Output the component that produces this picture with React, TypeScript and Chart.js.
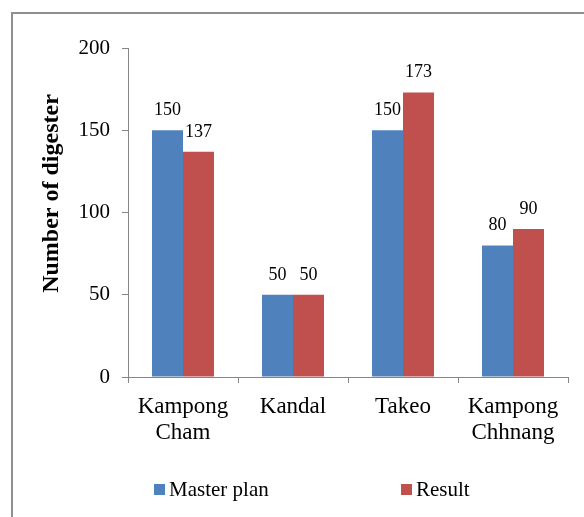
import React, { useEffect, useRef } from "react";
import { Chart, registerables } from "chart.js";

Chart.register(...registerables);

// Provinces (multi-line category labels)
const categories: string[][] = [["Kampong", "Cham"], ["Kandal"], ["Takeo"], ["Kampong", "Chhnang"]];
const seriesNames: string[] = ["Master plan", "Result"];
const masterPlan: number[] = [150, 50, 150, 80];
const result: number[] = [137, 50, 173, 90];
const seriesColors: string[] = ["#4F81BD", "#C0504D"];
const yTicks: number[] = [0, 50, 100, 150, 200];
const yTitle = "Number of digester";

const FONT = "'Liberation Serif', 'Times New Roman', Times, serif";
const AXIS_COLOR = "#868686";

// Value printed above every bar
const valueLabels = {
  id: "valueLabels",
  afterDatasetsDraw(chart: any) {
    const ctx = chart.ctx as CanvasRenderingContext2D;
    ctx.save();
    ctx.font = `18px ${FONT}`;
    ctx.fillStyle = "#000";
    ctx.textAlign = "center";
    ctx.textBaseline = "alphabetic";
    chart.data.datasets.forEach((ds: any, i: number) => {
      const meta = chart.getDatasetMeta(i);
      meta.data.forEach((bar: any, j: number) => {
        ctx.fillText(String(ds.data[j]), bar.x, bar.y - 15);
      });
    });
    ctx.restore();
  },
};

// Rotated bold y-axis title, placed a little above the middle of the plot
const axisTitle = {
  id: "axisTitle",
  afterDraw(chart: any) {
    const { ctx, chartArea } = chart;
    ctx.save();
    ctx.translate(chartArea.left - 70, (chartArea.top + chartArea.bottom) / 2 - 19);
    ctx.rotate(-Math.PI / 2);
    ctx.font = `bold 24px ${FONT}`;
    ctx.fillStyle = "#000";
    ctx.textAlign = "center";
    ctx.textBaseline = "alphabetic";
    ctx.fillText(yTitle, 0, 0);
    ctx.restore();
  },
};

export default function App() {
  const canvasRef = useRef<HTMLCanvasElement | null>(null);

  useEffect(() => {
    if (!canvasRef.current) return;
    const chart = new Chart(canvasRef.current, {
      type: "bar",
      data: {
        labels: categories,
        datasets: [
          {
            label: seriesNames[0],
            data: masterPlan,
            backgroundColor: seriesColors[0],
            borderWidth: 0,
            barPercentage: 1,
            categoryPercentage: 62 / 110,
          },
          {
            label: seriesNames[1],
            data: result,
            backgroundColor: seriesColors[1],
            borderWidth: 0,
            barPercentage: 1,
            categoryPercentage: 62 / 110,
          },
        ],
      },
      options: {
        animation: false,
        responsive: false,
        layout: { padding: { left: 0, top: 48, right: 16, bottom: 60 } },
        plugins: {
          legend: { display: false },
          tooltip: { enabled: false },
        },
        scales: {
          x: {
            grid: {
              drawOnChartArea: false,
              drawTicks: true,
              tickLength: 6,
              color: AXIS_COLOR,
              offset: true,
            },
            border: { color: AXIS_COLOR, width: 1 },
            ticks: {
              font: { family: FONT, size: 23, lineHeight: 1.17 },
              color: "#000",
              padding: 10,
              maxRotation: 0,
              autoSkip: false,
            },
            afterFit(scale: any) {
              scale.height = 80;
            },
          },
          y: {
            min: 0,
            max: 200,
            afterBuildTicks(scale: any) {
              scale.ticks = yTicks.map((v) => ({ value: v }));
            },
            ticks: {
              font: { family: FONT, size: 21 },
              color: "#000",
              padding: 12,
            },
            grid: {
              drawOnChartArea: false,
              drawTicks: true,
              tickLength: 6,
              color: AXIS_COLOR,
            },
            border: { color: AXIS_COLOR, width: 1 },
            afterFit(scale: any) {
              scale.width = 128;
            },
          },
        },
      },
      plugins: [valueLabels, axisTitle],
    });
    return () => chart.destroy();
  }, []);

  const legendX = [154, 401];

  return (
    <div style={{ position: "absolute", left: 0, top: 0, width: 584, height: 517, overflow: "hidden", background: "#fff" }}>
      <div
        style={{
          position: "absolute",
          left: 11,
          top: 12,
          width: 600,
          height: 600,
          borderTop: "2px solid #8f8f8f",
          borderLeft: "2px solid #8f8f8f",
        }}
      />
      <canvas ref={canvasRef} width={584} height={517} style={{ position: "absolute", left: 0, top: 0 }} />
      {seriesNames.map((name, i) => (
        <React.Fragment key={name}>
          <div
            style={{
              position: "absolute",
              left: legendX[i],
              top: 484,
              width: 11,
              height: 11,
              background: seriesColors[i],
            }}
          />
          <div
            style={{
              position: "absolute",
              left: legendX[i] + 15,
              top: 479,
              font: `21px ${FONT}`,
              lineHeight: "21px",
              color: "#000",
              whiteSpace: "nowrap",
            }}
          >
            {name}
          </div>
        </React.Fragment>
      ))}
    </div>
  );
}
